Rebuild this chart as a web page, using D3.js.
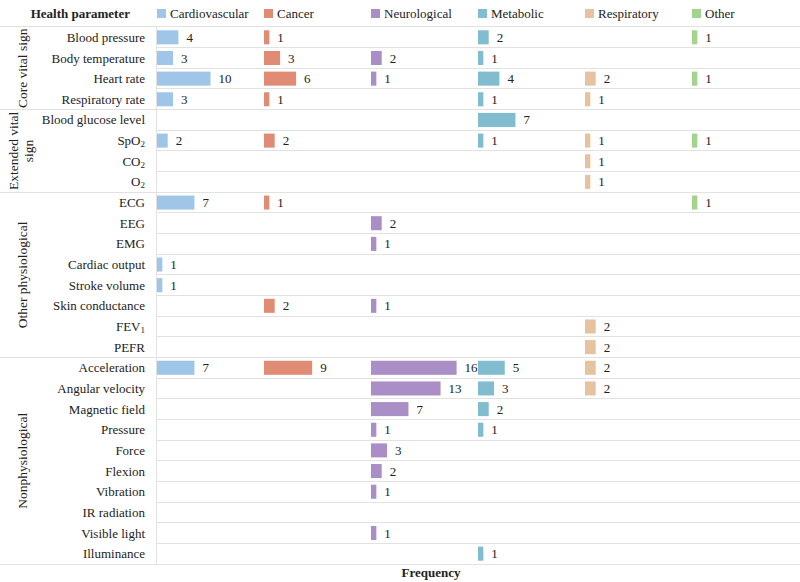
<!DOCTYPE html>
<html>
<meta charset="utf-8">
<style type="text/css">
	body { margin: 0; background: #fff; }
	svg text { font-family: "Liberation Serif", "Times New Roman", serif; fill: #222; }
	.grid { stroke: #e2e2e2; stroke-width: 1px; }
</style>
<svg width="800" height="582"></svg>
<script src="https://cdn.jsdelivr.net/npm/d3@7"></script>
<script>
	// categories (panels) and their colours
	var categories = ['Cardiovascular', 'Cancer', 'Neurological', 'Metabolic', 'Respiratory', 'Other'];
	var colors = ['#9fc5e8', '#e08c75', '#a98fc6', '#82bccf', '#e6c3a0', '#a3d48e'];

	// "_" marks a subscript in the label
	var parameters = [
		'Blood pressure', 'Body temperature', 'Heart rate', 'Respiratory rate',
		'Blood glucose level', 'SpO_2', 'CO_2', 'O_2',
		'ECG', 'EEG', 'EMG', 'Cardiac output', 'Stroke volume', 'Skin conductance', 'FEV_1', 'PEFR',
		'Acceleration', 'Angular velocity', 'Magnetic field', 'Pressure', 'Force', 'Flexion',
		'Vibration', 'IR radiation', 'Visible light', 'Illuminance'
	];

	var groups = [
		{ name: ['Core vital sign'], first: 'Blood pressure', last: 'Respiratory rate' },
		{ name: ['Extended vital', 'sign'], first: 'Blood glucose level', last: 'O_2' },
		{ name: ['Other physiological'], first: 'ECG', last: 'PEFR' },
		{ name: ['Nonphysiological'], first: 'Acceleration', last: 'Illuminance' }
	];

	// frequency per parameter, in the order of `parameters`
	var cardiovascular = [4, 3, 10, 3, 0, 2, 0, 0, 7, 0, 0, 1, 1, 0, 0, 0, 7, 0, 0, 0, 0, 0, 0, 0, 0, 0];
	var cancer         = [1, 3, 6, 1, 0, 2, 0, 0, 1, 0, 0, 0, 0, 2, 0, 0, 9, 0, 0, 0, 0, 0, 0, 0, 0, 0];
	var neurological   = [0, 2, 1, 0, 0, 0, 0, 0, 0, 2, 1, 0, 0, 1, 0, 0, 16, 13, 7, 1, 3, 2, 1, 0, 1, 0];
	var metabolic      = [2, 1, 4, 1, 7, 1, 0, 0, 0, 0, 0, 0, 0, 0, 0, 0, 5, 3, 2, 1, 0, 0, 0, 0, 0, 1];
	var respiratory    = [0, 0, 2, 1, 0, 1, 1, 1, 0, 0, 0, 0, 0, 0, 2, 2, 2, 2, 0, 0, 0, 0, 0, 0, 0, 0];
	var other          = [1, 0, 1, 0, 0, 1, 0, 0, 1, 0, 0, 0, 0, 0, 0, 0, 0, 0, 0, 0, 0, 0, 0, 0, 0, 0];
	var series = [cardiovascular, cancer, neurological, metabolic, respiratory, other];

	var svg = d3.select('svg'),
			width = +svg.attr('width'),
			plotLeft = 156, plotTop = 27, plotBottom = 564;

	var y = d3.scaleBand().domain(parameters).range([plotTop, plotBottom]).paddingInner(0.32).paddingOuter(0.16);
	var panel = d3.scaleBand().domain(categories).range([plotLeft, 798]);
	var x = d3.scaleLinear().domain([0, 20]).range([0, panel.bandwidth()]);
	var step = y.step();

	// row separators
	var firsts = groups.map(g => g.first);
	svg.selectAll('.grid.row')
			.data(parameters)
		.enter().append('line')
			.attr('class', 'grid row')
			.attr('x1', d => firsts.indexOf(d) >= 0 ? 0 : plotLeft)
			.attr('x2', width)
			.attr('y1', d => Math.round(y(d) - step * 0.16 - 0.5) + 0.5)
			.attr('y2', d => Math.round(y(d) - step * 0.16 - 0.5) + 0.5);

	svg.append('line').attr('class', 'grid')
		.attr('x1', 0).attr('x2', width).attr('y1', plotBottom + 0.5).attr('y2', plotBottom + 0.5);
	svg.append('line').attr('class', 'grid')
		.attr('x1', plotLeft + 0.5).attr('x2', plotLeft + 0.5).attr('y1', plotTop).attr('y2', plotBottom);

	// parameter labels
	var plabel = svg.selectAll('.plabel')
			.data(parameters)
		.enter().append('text')
			.attr('class', 'plabel')
			.attr('x', 145)
			.attr('y', d => y(d) + y.bandwidth() / 2)
			.attr('dy', '0.35em')
			.attr('text-anchor', 'end')
			.style('font-size', '13px');
	plabel.each(function(d) {
		var parts = d.split('_'), t = d3.select(this);
		t.append('tspan').text(parts[0]);
		if (parts[1]) t.append('tspan').attr('dy', '0.2em').style('font-size', '9px').text(parts[1]);
	});

	// group labels, rotated
	groups.forEach(function(g) {
		var y0 = y(g.first) - step * 0.16, y1 = y(g.last) + y.bandwidth() + step * 0.16;
		var cy = (y0 + y1) / 2;
		var t = svg.append('text')
			.attr('transform', 'translate(22,' + cy + ') rotate(-90)')
			.attr('text-anchor', 'middle')
			.style('font-size', '13.5px');
		g.name.forEach(function(line, i) {
			t.append('tspan')
				.attr('x', 0)
				.attr('dy', i === 0 ? (g.name.length > 1 ? '-0.3em' : '0.35em') : '1.15em')
				.text(line);
		});
	});

	// header
	svg.append('text')
		.attr('x', 130).attr('y', 18)
		.attr('text-anchor', 'end')
		.style('font-size', '13px').style('font-weight', 'bold')
		.text('Health parameter');

	var legend = svg.selectAll('.legend')
			.data(categories)
		.enter().append('g')
			.attr('class', 'legend')
			.attr('transform', d => 'translate(' + panel(d) + ',0)');
	legend.append('rect')
		.attr('x', 1).attr('y', 9).attr('width', 9).attr('height', 9)
		.attr('fill', (d, i) => colors[i]);
	legend.append('text')
		.attr('x', 14).attr('y', 18)
		.style('font-size', '13px')
		.text(d => d);

	// bars
	categories.forEach(function(cat, ci) {
		var data = parameters.map((p, i) => ({ p: p, v: series[ci][i] })).filter(d => d.v > 0);
		var g = svg.append('g').attr('transform', 'translate(' + panel(cat) + ',0)');
		g.selectAll('rect')
				.data(data)
			.enter().append('rect')
				.attr('x', 1)
				.attr('y', d => y(d.p))
				.attr('width', d => x(d.v))
				.attr('height', y.bandwidth())
				.attr('fill', colors[ci]);
		g.selectAll('text')
				.data(data)
			.enter().append('text')
				.attr('x', d => x(d.v) + 9)
				.attr('y', d => y(d.p) + y.bandwidth() / 2)
				.attr('dy', '0.35em')
				.style('font-size', '13px')
				.text(d => d.v);
	});

	svg.append('text')
		.attr('x', 431).attr('y', 577)
		.attr('text-anchor', 'middle')
		.style('font-size', '13px').style('font-weight', 'bold')
		.text('Frequency');
</script>
</html>
